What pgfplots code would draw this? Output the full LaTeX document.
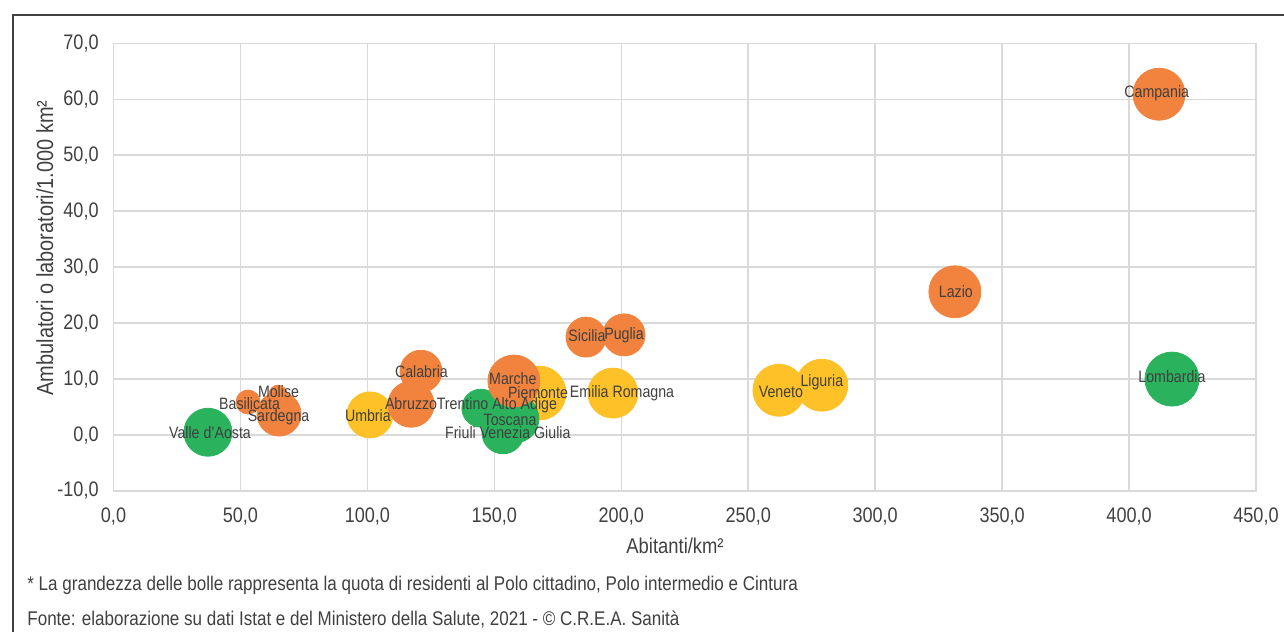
\documentclass[border=0pt]{standalone}
\usepackage{pgfplots}
\pgfplotsset{compat=1.18}
\usepackage{fontspec}
\setmainfont{Liberation Sans}[FakeStretch=0.86]
\definecolor{cOr}{HTML}{F1833E}
\definecolor{cYe}{HTML}{FEC128}
\definecolor{cGr}{HTML}{2AB25D}
\definecolor{cTx}{HTML}{404040}
\definecolor{cGrid}{HTML}{D9D9D9}
\begin{document}
\begin{tikzpicture}
\useasboundingbox (0,0) rectangle (642pt,316pt);
\draw[cTx, line width=0.6pt] (6.5pt,0) -- (6.5pt,308.5pt) -- (642pt,308.5pt);
\begin{axis}[
  at={(56.75pt,70.5pt)}, anchor=south west,
  scale only axis, width=571.25pt, height=223.85pt,
  xmin=0, xmax=450, ymin=-10, ymax=70,
  xtick={0,50,100,150,200,250,300,350,400,450},
  ytick={-10,0,10,20,30,40,50,60,70},
  xticklabels={{0,0},{50,0},{100,0},{150,0},{200,0},{250,0},{300,0},{350,0},{400,0},{450,0}},
  yticklabels={{-10,0},{0,0},{10,0},{20,0},{30,0},{40,0},{50,0},{60,0},{70,0}},
  grid=major, major grid style={cGrid, line width=0.75pt},
  axis line style={cGrid, line width=0.75pt},
  tick style={draw=none},
  ticklabel style={font=\fontsize{10.5}{12}\selectfont, text=cTx, inner sep=0pt},
  xticklabel style={anchor=north, yshift=-8pt},
  yticklabel style={anchor=east, xshift=-7.25pt},
  xlabel={Abitanti/km²},
  ylabel={Ambulatori o laboratori/1.000 km²},
  xlabel style={font=\fontsize{10.7}{12}\selectfont, text=cTx, at={(axis description cs:0.4915,-0.1229)}, anchor=center},
  ylabel style={font=\fontsize{11.6}{13}\selectfont, text=cTx, at={(axis description cs:-0.06,0.5428)}, anchor=center, rotate=0},
  clip=false,
]
% yellow bubbles
\addplot[only marks, mark=*, scatter,
  scatter/use mapped color={draw=cYe, fill=cYe},
  visualization depends on={\thisrow{r} \as \rad},
  scatter/@pre marker code/.append style={/tikz/mark size=\rad}]
  table[row sep=\\] {
x y r\\
101.0 3.6 11.5\\
167.6 7.5 13.5\\
196.7 7.5 12.5\\
262.1 8.0 13.0\\
279.0 8.9 13.0\\
};
% green bubbles
\addplot[only marks, mark=*, scatter,
  scatter/use mapped color={draw=cGr, fill=cGr},
  visualization depends on={\thisrow{r} \as \rad},
  scatter/@pre marker code/.append style={/tikz/mark size=\rad}]
  table[row sep=\\] {
x y r\\
37.2 0.5 12.0\\
144.7 4.8 9.5\\
158.1 2.9 12.0\\
153.4 0.4 10.5\\
416.9 10.0 13.5\\
};
% orange bubbles
\addplot[only marks, mark=*, scatter,
  scatter/use mapped color={draw=cOr, fill=cOr},
  visualization depends on={\thisrow{r} \as \rad},
  scatter/@pre marker code/.append style={/tikz/mark size=\rad}]
  table[row sep=\\] {
x y r\\
53.0 5.9 6.0\\
64.8 7.3 4.5\\
65.2 3.75 11.0\\
117.2 5.5 11.5\\
121.1 11.4 10.5\\
157.7 9.65 13.0\\
186.1 17.5 10.0\\
201.1 17.9 10.5\\
331.4 25.6 13.0\\
411.8 60.9 13.0\\
};
% labels
\addplot[only marks, mark=none, nodes near coords, point meta=explicit symbolic,
  nodes near coords style={anchor=center, inner sep=0pt, text=cTx,
    font=\fontsize{8.25}{9}\selectfont}]
  table[meta=label, col sep=comma, row sep=\\] {
x,y,label\\
38.0,0.4,Valle d'Aosta\\
53.6,5.7,Basilicata\\
65.0,7.7,Molise\\
65.0,3.2,Sardegna\\
100.2,3.4,Umbria\\
117.2,5.7,Abruzzo\\
121.3,11.3,Calabria\\
157.3,10.0,Marche\\
167.2,7.5,Piemonte\\
151.0,5.4,Trentino Alto Adige\\
156.2,2.7,Toscana\\
155.3,0.4,Friuli Venezia Giulia\\
200.3,7.5,Emilia Romagna\\
186.5,17.7,Sicilia\\
201.1,17.9,Puglia\\
262.9,7.7,Veneto\\
279.0,9.5,Liguria\\
331.8,25.6,Lazio\\
410.9,61.1,Campania\\
416.9,10.4,Lombardia\\
};
\end{axis}
\node[anchor=west, inner sep=0pt, text=cTx, font=\fontsize{9.9}{11}\selectfont] at (13.5pt,23.5pt) {* La grandezza delle bolle rappresenta la quota di residenti al Polo cittadino, Polo intermedio e Cintura};
\node[anchor=west, inner sep=0pt, text=cTx, font=\fontsize{9.9}{11}\selectfont] at (13.5pt,6.5pt) {Fonte: elaborazione su dati Istat e del Ministero della Salute, 2021 - © C.R.E.A. Sanità};
\end{tikzpicture}
\end{document}
